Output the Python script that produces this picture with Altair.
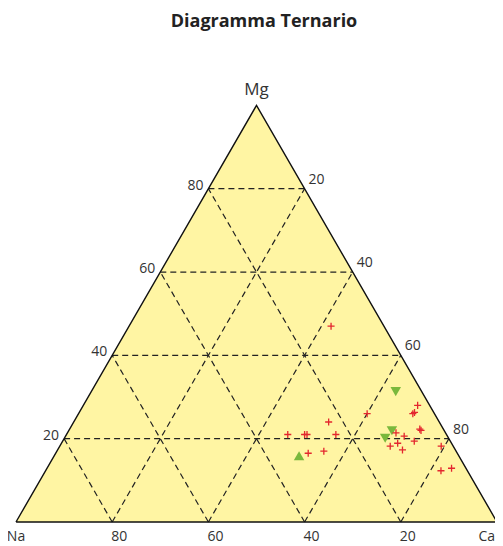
import altair as alt
import pandas as pd

# ---- data (percent) ----
red_ca = [42, 53, 60, 46, 49.5, 50.0, 56, 52.5, 55.5, 69.5, 69.5, 69.7, 72.8, 73.2, 68.3, 70.4, 73.1, 68.7, 69.9, 71.7, 79.3, 82.2, 84.1]
red_mg = [47, 24, 26, 21, 21, 21, 21, 16.5, 17, 28, 26, 26.3, 22.3, 22.0, 21.4, 20.6, 19.4, 18.2, 18.9, 17.3, 18.2, 12.3, 12.9]

gdown_ca = [63.3, 67.2, 66.7]
gdown_mg = [31.3, 21.9, 20.1]

gup_ca = [50.9]
gup_mg = [15.9]

grid_levels = [20, 40, 60, 80]
vertex_names = ["Na", "Ca", "Mg"]
title_text = "Diagramma Ternario"

FONT = "Open Sans"
W, H = 487, 538
xdom = [-8 / 481, (W - 8) / 481]
ydom = [-(H - 514) / 416.6, 514 / 416.6]
xs = alt.Scale(domain=xdom, nice=False, zero=False)
ys = alt.Scale(domain=ydom, nice=False, zero=False)
X = lambda f: alt.X(f, type="quantitative", scale=xs, axis=None)
Y = lambda f: alt.Y(f, type="quantitative", scale=ys, axis=None)


def to_xy(ca, mg):
    c = [v / 100 for v in ca]
    m = [v / 100 for v in mg]
    return pd.DataFrame({"x": [a + b / 2 for a, b in zip(c, m)], "y": m})


# triangle fill and outline
tri = pd.DataFrame({"x": [0, 0.5, 1, 0], "y": [0, 1, 0, 0], "o": [0, 1, 2, 3]})
fill = alt.Chart(tri.iloc[:3]).mark_area(color="#fff5a3", opacity=1).encode(
    x=X("x"), y=Y("y"), y2=alt.datum(0)
)
outline = alt.Chart(tri).mark_line(color="#111", strokeWidth=1.4).encode(
    x=X("x"), y=Y("y"), order="o:Q"
)

# grid segments
segs = []
for L in grid_levels:
    f = L / 100
    segs.append({"x": f / 2, "y": f, "x2": 1 - f / 2, "y2": f})          # constant Mg
    segs.append({"x": f, "y": 0, "x2": f + (1 - f) / 2, "y2": 1 - f})    # constant Ca
    segs.append({"x": 1 - f, "y": 0, "x2": (1 - f) / 2, "y2": 1 - f})    # constant Na
grid = alt.Chart(pd.DataFrame(segs)).mark_rule(
    color="#222", strokeWidth=1.2, strokeDash=[6, 4]
).encode(x=X("x"), y=Y("y"), x2="x2:Q", y2="y2:Q")

# labels
left_df = pd.DataFrame({"x": [L / 200 for L in grid_levels], "y": [L / 100 for L in grid_levels],
                        "t": [str(L) for L in grid_levels]})
right_df = pd.DataFrame({"x": [1 - L / 200 for L in grid_levels], "y": [L / 100 for L in grid_levels],
                         "t": [str(100 - L) for L in grid_levels]})
bottom_df = pd.DataFrame({"x": [L / 100 for L in grid_levels], "y": [0] * 4,
                          "t": [str(100 - L) for L in grid_levels]})
txt = dict(font=FONT, fontSize=14, color="#333", baseline="middle")
left_lab = alt.Chart(left_df).mark_text(align="right", dx=-5, dy=-3, **txt).encode(
    x=X("x"), y=Y("y"), text="t:N")
right_lab = alt.Chart(right_df).mark_text(align="left", dx=4, dy=-9, **txt).encode(
    x=X("x"), y=Y("y"), text="t:N")
bottom_lab = alt.Chart(bottom_df).mark_text(align="center", dx=7, dy=15, **txt).encode(
    x=X("x"), y=Y("y"), text="t:N")

na_lab = alt.Chart(pd.DataFrame({"x": [0], "y": [0], "t": [vertex_names[0]]})).mark_text(
    align="center", dx=0, dy=15, **txt).encode(x=X("x"), y=Y("y"), text="t:N")
ca_lab = alt.Chart(pd.DataFrame({"x": [1], "y": [0], "t": [vertex_names[1]]})).mark_text(
    align="right", dx=-2, dy=15, **txt).encode(x=X("x"), y=Y("y"), text="t:N")
mg_lab = alt.Chart(pd.DataFrame({"x": [0.5], "y": [1], "t": [vertex_names[2]]})).mark_text(
    align="center", baseline="alphabetic", dy=-10, font=FONT, fontSize=17, color="#333"
).encode(x=X("x"), y=Y("y"), text="t:N")

title = alt.Chart(pd.DataFrame({"t": [title_text]})).mark_text(
    align="center", baseline="alphabetic", font=FONT, fontSize=18, fontWeight="bold", color="#222"
).encode(x=alt.value(256), y=alt.value(19), text="t:N")

# points
gdown = alt.Chart(to_xy(gdown_ca, gdown_mg)).mark_point(
    shape="triangle-down", filled=True, size=110, color="#7ab83c", opacity=1
).encode(x=X("x"), y=Y("y"))
gup = alt.Chart(to_xy(gup_ca, gup_mg)).mark_point(
    shape="triangle-up", filled=True, size=110, color="#7ab83c", opacity=1
).encode(x=X("x"), y=Y("y"))
red = alt.Chart(to_xy(red_ca, red_mg)).mark_point(
    shape="M-1,0L1,0M0,-1L0,1", filled=False, size=50, color="#e3262e", strokeWidth=1.3, opacity=1
).encode(x=X("x"), y=Y("y"))

chart = alt.layer(
    fill, grid, outline, left_lab, right_lab, bottom_lab, na_lab, ca_lab, mg_lab, title, gdown, gup, red
).properties(
    width=W, height=H, autosize=alt.AutoSizeParams(type="none"), padding=0
).configure_view(stroke=None)

chart.save("out.html", embed_options={"renderer": "svg", "actions": False})
